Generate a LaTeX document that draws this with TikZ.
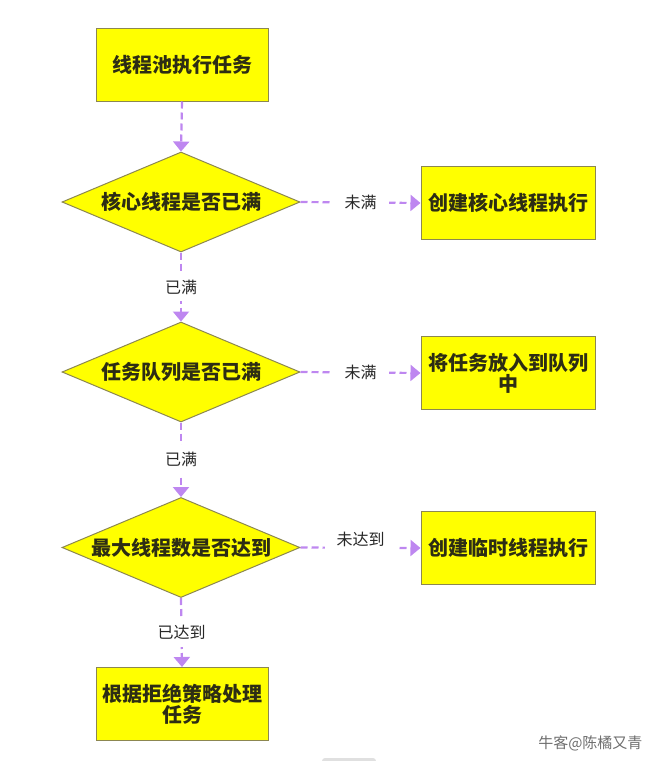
\documentclass[tikz,border=0pt]{standalone}
\usepackage{fontspec}
\newfontfamily\cjk{Noto Sans CJK SC}
\usetikzlibrary{shapes.geometric,arrows.meta}
\definecolor{boxfill}{RGB}{255,255,0}
\definecolor{boxline}{RGB}{140,135,80}
\definecolor{arrowc}{RGB}{190,135,240}
\definecolor{txt}{RGB}{45,45,20}
\definecolor{lbl}{RGB}{40,40,40}
\definecolor{wm}{RGB}{110,110,110}
\tikzset{
  procbox/.style={draw=boxline, line width=1pt, fill=boxfill, minimum width=172pt, minimum height=73pt, inner sep=0pt, align=center, text=txt, font=\cjk\bfseries\fontsize{20}{21}\selectfont},
  dia/.style={draw=boxline, line width=1pt, fill=boxfill, shape=diamond, minimum width=238pt, minimum height=100pt, inner sep=0pt},
  diatext/.style={text=txt, font=\cjk\bfseries\fontsize{20}{21}\selectfont, inner sep=0pt},
  flow/.style={draw=arrowc, line width=2.2pt, dash pattern=on 7pt off 4pt, -{Triangle[width=16pt,length=10pt,fill=arrowc]}},
  lab/.style={fill=white, text=lbl, font=\cjk\fontsize{16}{18}\selectfont, inner xsep=12pt, inner ysep=7pt},
}
\begin{document}
\begin{tikzpicture}[x=1pt,y=-1pt]
\useasboundingbox (0,0) rectangle (655,761);
\node[procbox] (start) at (182,64.5) {线程池执行任务};
\node[dia] (d1) at (181,202) {};
\node[diatext] (t1) at (d1.center) {核心线程是否已满};
\node[procbox, minimum width=174pt] (b1) at (508,203) {创建核心线程执行};
\node[dia] (d2) at (181,372) {};
\node[diatext] (t2) at (d2.center) {任务队列是否已满};
\node[procbox, minimum width=174pt] (b2) at (508,373) {将任务放入到队列\\中};
\node[dia] (d3) at (181,547.5) {};
\node[diatext] (t3) at (d3.center) {最大线程数是否达到};
\node[procbox, minimum width=174pt] (b3) at (508,548) {创建临时线程执行};
\node[procbox] (end) at (182,704) {根据拒绝策略处理\\任务};
\draw[flow] (start.south) -- (d1.north);
\draw[flow] (d1.east) -- node[lab]{未满} (b1.west);
\draw[flow] (d1.south) -- node[lab]{已满} (d2.north);
\draw[flow] (d2.east) -- node[lab]{未满} (b2.west);
\draw[flow] (d2.south) -- node[lab]{已满} (d3.north);
\draw[flow] (d3.east) -- node[lab, yshift=8pt, inner ysep=8pt]{未达到} (b3.west);
\draw[flow] (d3.south) -- node[lab]{已达到} (end.north);
\node[text=wm, font=\cjk\fontsize{15}{17}\selectfont, anchor=east] (wmk) at (646,743) {牛客@陈橘又青};
\node[fill=black!12, rounded corners=3pt, minimum width=54pt, minimum height=6pt, inner sep=0pt] (bar) at (349,761) {};
\end{tikzpicture}
\end{document}
